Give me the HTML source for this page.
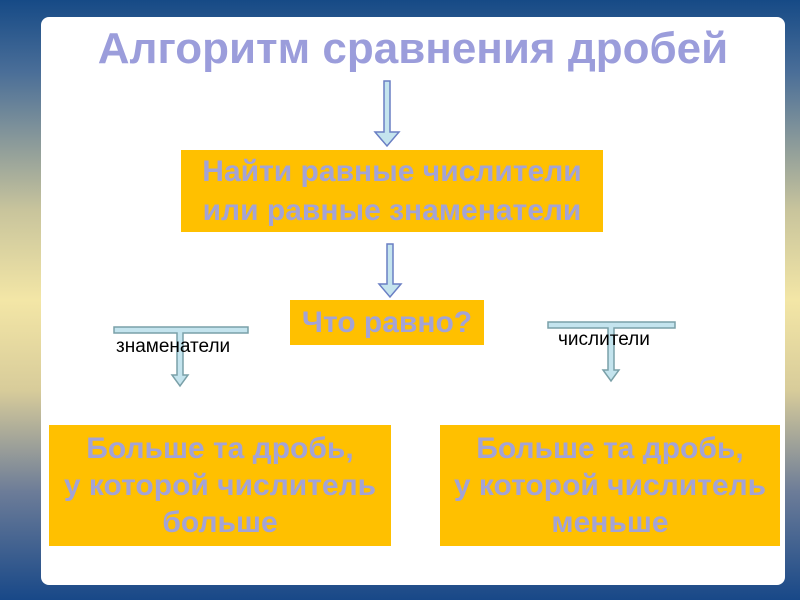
<!DOCTYPE html>
<html><head><meta charset="utf-8"><style>
body{margin:0;width:800px;height:600px;overflow:hidden;font-family:"Liberation Sans",sans-serif;
background:linear-gradient(180deg,#164a86 0%,#4a6e98 12%,#c8c49c 35%,#f3e6a6 50%,#d8cc9a 65%,#6c7c98 82%,#184888 100%);position:relative}
.panel{position:absolute;left:41px;top:17px;width:744px;height:568px;background:#fff;border-radius:8px}
.t{position:absolute;color:#9b9ddb;font-weight:bold;text-align:center;white-space:nowrap}
.box{position:absolute;background:#ffc000;color:#a3a3d6;font-weight:bold;text-align:center;display:flex;align-items:center;justify-content:center;white-space:nowrap}
.lbl{position:absolute;font-size:19px;color:#000}
</style></head><body>
<div class="panel"></div>
<div class="t" style="left:40px;width:746px;top:24px;font-size:44px">Алгоритм сравнения дробей</div>
<div class="box" style="left:181px;top:150px;width:422px;height:82px;font-size:30px;line-height:39px">Найти равные числители<br>или равные знаменатели</div>
<div class="box" style="left:290px;top:300px;width:194px;height:45px;font-size:30px">Что равно?</div>
<div class="box" style="left:49px;top:425px;width:342px;height:121px;font-size:30px;line-height:37px">Больше та дробь,<br>у которой числитель<br>больше</div>
<div class="box" style="left:440px;top:425px;width:340px;height:121px;font-size:30px;line-height:37px">Больше та дробь,<br>у которой числитель<br>меньше</div>
<svg width="800" height="600" style="position:absolute;left:0;top:0">
<g fill="#c4e4ee" stroke="#6a7fc4" stroke-width="1.5">
<path d="M384 81H390V132H399L387 146L375 132H384Z"/>
<path d="M387 244H393V284H401L390 297L379 284H387Z"/>
</g>
<g fill="#c4e4ee" stroke="#7aa0a8" stroke-width="1.5">
<path d="M114 327H248V333H183V375H188L180 386L172 375H177V333H114Z"/>
<path d="M548 322H675V328H614V370H619L611 381L603 370H608V328H548Z"/>
</g>
</svg>
<div class="lbl" style="left:116px;top:336px">знаменатели</div>
<div class="lbl" style="left:558px;top:329px">числители</div>
</body></html>
